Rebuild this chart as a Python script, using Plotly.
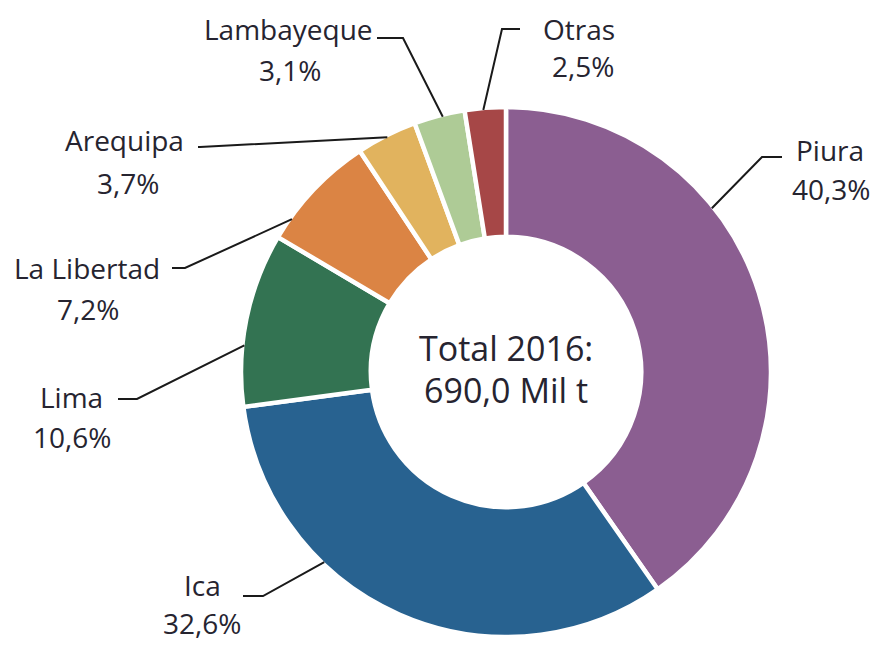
import math
import plotly.graph_objects as go

# ---- data ----
regions = ["Piura", "Ica", "Lima", "La Libertad", "Arequipa", "Lambayeque", "Otras"]
shares = [40.3, 32.6, 10.6, 7.2, 3.7, 3.1, 2.5]
share_labels = ["40,3%", "32,6%", "10,6%", "7,2%", "3,7%", "3,1%", "2,5%"]
colors = ["#8B5E91", "#286290", "#337352", "#DB8444", "#E1B35E", "#AECB96", "#A64747"]
center_lines = ["Total 2016:", "690,0 Mil t"]

# ---- layout constants (pixels) ----
W, H = 876, 645
CX, CY, R = 506, 372, 265
HOLE = 0.51
TEXT_COLOR = "#262430"
FONT = "Open Sans"
LABEL_SIZE = 28
CENTER_SIZE = 34

# leader anchor fraction within slice, elbow point, end point, name centre, value centre
leader_frac = [0.355, 0.67, 0.35, 0.19, 0.5, 0.56, 0.45]
elbows = [(762, 157), (263, 596), (137, 399), (185, 268), (200, 147), (403, 38), (502, 29)]
ends = [(782, 157), (243, 596), (118, 399), (172, 268), (198, 147), (377, 38), (520, 29)]
name_pos = [(830, 150), (202, 585), (71, 397), (87, 268), (124, 140), (288, 29), (579, 29)]
value_pos = [(831, 189), (202, 623), (72, 437), (88, 309), (128, 183), (290, 70), (583, 66)]


def px(x):
    return x / W


def py(y):
    return 1 - y / H


fig = go.Figure(
    go.Pie(
        labels=regions,
        values=shares,
        sort=False,
        direction="clockwise",
        hole=HOLE,
        marker=dict(colors=colors, line=dict(color="white", width=4.5)),
        textinfo="none",
        hoverinfo="label+percent",
        showlegend=False,
        domain=dict(x=[px(CX - R), px(CX + R)], y=[py(CY + R), py(CY - R)]),
    )
)

total = sum(shares)
cum = 0.0
shapes = []
annotations = []
for i, v in enumerate(shares):
    theta = math.radians((cum + leader_frac[i] * v) / total * 360)
    cum += v
    sx = CX + (R - 2) * math.sin(theta)
    sy = CY - (R - 2) * math.cos(theta)
    ex, ey = elbows[i]
    fx, fy = ends[i]
    shapes.append(dict(
        type="path", xref="paper", yref="paper",
        path=f"M {px(sx)},{py(sy)} L {px(ex)},{py(ey)} L {px(fx)},{py(fy)}",
        line=dict(color="#1a1a1a", width=2),
    ))
    for txt, (tx, ty) in ((regions[i], name_pos[i]), (share_labels[i], value_pos[i])):
        annotations.append(dict(
            text=txt, x=px(tx), y=py(ty), xref="paper", yref="paper",
            xanchor="center", yanchor="middle", showarrow=False,
            font=dict(family=FONT, size=LABEL_SIZE, color=TEXT_COLOR),
        ))

for txt, ty in zip(center_lines, (348, 390)):
    annotations.append(dict(
        text=txt, x=px(CX), y=py(ty), xref="paper", yref="paper",
        xanchor="center", yanchor="middle", showarrow=False,
        font=dict(family=FONT, size=CENTER_SIZE, color=TEXT_COLOR),
    ))

fig.update_layout(
    width=W, height=H,
    margin=dict(l=0, r=0, t=0, b=0),
    paper_bgcolor="white", plot_bgcolor="white",
    shapes=shapes, annotations=annotations,
)

fig.write_html(
    "out.html",
    config={"displayModeBar": False},
    post_script="document.body.style.margin='0';document.body.style.overflow='hidden';",
)
